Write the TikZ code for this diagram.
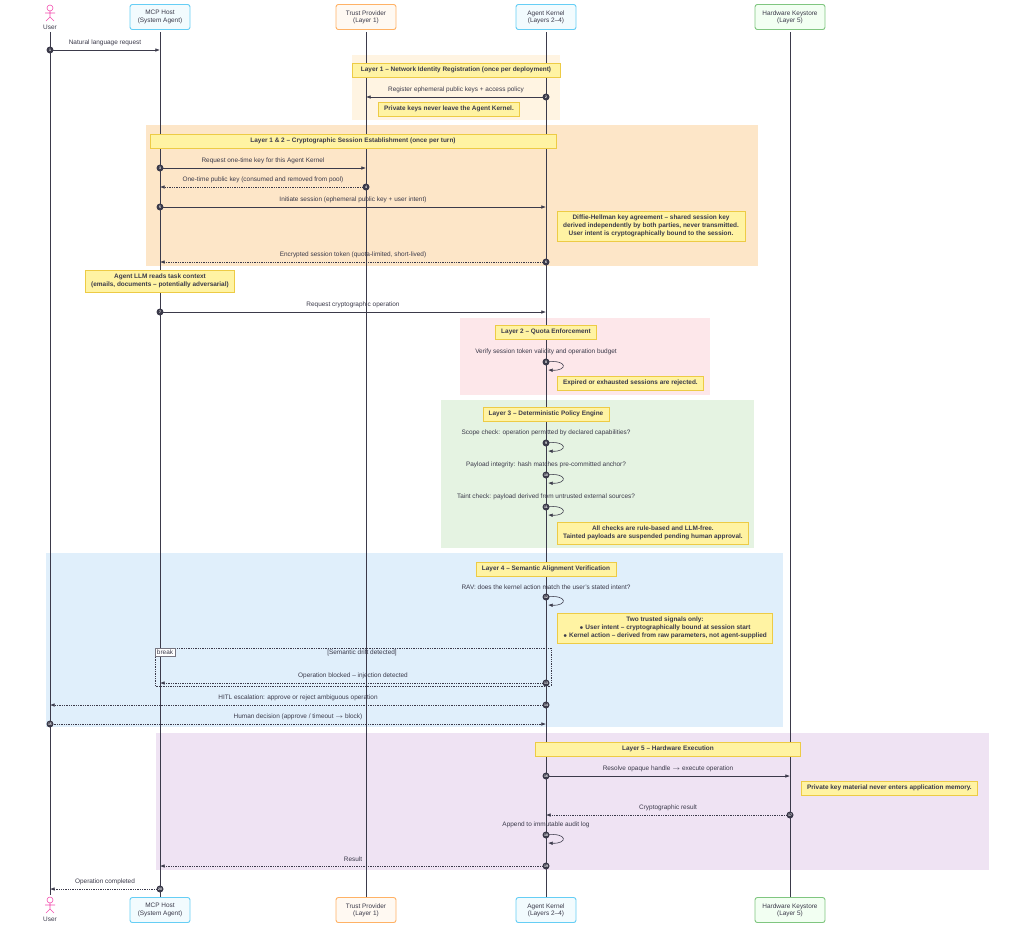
\documentclass[tikz,border=0pt]{standalone}
\usepackage{fontspec}
\setmainfont{Liberation Sans}
\usetikzlibrary{arrows.meta}
\definecolor{bgone}{HTML}{FFF4E2}
\definecolor{bgtwo}{HTML}{FDE6C8}
\definecolor{bgquota}{HTML}{FDE7EA}
\definecolor{bgpolicy}{HTML}{E5F3E2}
\definecolor{bgsem}{HTML}{E0EFFB}
\definecolor{bghw}{HTML}{EFE3F3}
\definecolor{notefill}{HTML}{FFF3A3}
\definecolor{notedraw}{HTML}{EDCB45}
\definecolor{linecol}{HTML}{3B3A4A}
\tikzset{
  actor/.style={rectangle, rounded corners=2pt, minimum width=60*0.03cm, minimum height=25*0.03cm, align=center, font=\fontsize{5.5}{6.2}\selectfont, line width=0.8pt, text=linecol},
  note/.style={rectangle, draw=notedraw, fill=notefill, align=center, font=\fontsize{5.5}{6.8}\selectfont\bfseries, text=linecol, inner xsep=5pt, inner ysep=3.5pt},
  msglabel/.style={font=\fontsize{5.5}{6}\selectfont, text=linecol, inner sep=1pt},
  seqnum/.style={circle, fill=linecol, text=white, inner sep=0pt, minimum size=7*0.03cm, font=\fontsize{3}{3}\selectfont\bfseries},
  msg/.style={draw=linecol, line width=0.5pt, -{Latex[length=4pt,width=3pt]}},
  reply/.style={msg, densely dotted},
  lifeline/.style={draw=linecol, line width=0.6pt}
}
% one message: number, x from, x to, y, style, label
\newcommand{\msgline}[6]{%
  \coordinate (m#1s) at (#2,#4); \coordinate (m#1e) at (#3,#4);
  \draw[#5] (m#1s) -- (m#1e);
  \node[msglabel] (l#1) at ({(#2+#3)/2},#4-7) {#6};
  \node[seqnum] (n#1) at (m#1s) {#1};}
% self message on the kernel
\newcommand{\selfmsg}[3]{%
  \coordinate (m#1s) at (546,#2); \coordinate (m#1e) at (548,#2+8);
  \draw[msg] (m#1s) .. controls (568,#2-3) and (568,#2+9) .. (m#1e);
  \node[msglabel] (l#1) at (546,#2-10) {#3};
  \node[seqnum] (n#1) at (m#1s) {#1};}
\newcommand{\stickman}[2]{%
  \draw[magenta!70, line width=0.5pt] (#1,#2) circle (3) (#1,#2+3) -- (#1,#2+9) (#1-5,#2+5) -- (#1+5,#2+5)
    (#1,#2+9) -- (#1-4,#2+13) (#1,#2+9) -- (#1+4,#2+13);}

\begin{document}
\begin{tikzpicture}[x=0.03cm, y=-0.03cm]
\useasboundingbox (0,0) rectangle (1009,941);

% layer backgrounds
\fill[bgone] (352,55) rectangle (560,120);
\fill[bgtwo] (146,125) rectangle (758,266);
\fill[bgquota] (460,318) rectangle (710,395);
\fill[bgpolicy] (441,400) rectangle (754,548);
\fill[bgsem] (46,553) rectangle (783,727);
\fill[bghw] (156,733) rectangle (989,870);

% lifelines
\draw[lifeline] (50,32) -- (50,895);
\draw[lifeline] (160,32) -- (160,897);
\draw[lifeline] (366,32) -- (366,897);
\draw[lifeline] (546,32) -- (546,897);
\draw[lifeline] (790,32) -- (790,897);

% participants, top and bottom
\stickman{50}{8}
\node[msglabel] (usertop) at (50,27) {User};
\stickman{50}{900}
\node[msglabel] (userbot) at (50,919) {User};
\foreach \y/\p in {17/top, 910/bot} {
  \node[actor, draw=cyan!60, fill=cyan!5] (mcp\p) at (160,\y) {MCP Host\\(System Agent)};
  \node[actor, draw=orange!60, fill=orange!5] (trust\p) at (366,\y) {Trust Provider\\(Layer 1)};
  \node[actor, draw=cyan!60, fill=cyan!5] (kernel\p) at (546,\y) {Agent Kernel\\(Layers 2--4)};
  \node[actor, minimum width=70*0.03cm, draw=green!55!black!50, fill=green!5] (hw\p) at (790,\y) {Hardware Keystore\\(Layer 5)};
}

% notes
\node[note, minimum width=208*0.03cm] (noteone) at (456,70) {Layer 1 -- Network Identity Registration (once per deployment)};
\node[note] (notekeys) at (449,109) {Private keys never leave the Agent Kernel.};
\node[note, minimum width=406*0.03cm] (notetwo) at (353,141) {Layer 1 \& 2 -- Cryptographic Session Establishment (once per turn)};
\node[note, anchor=west] (notedh) at (557,226) {Diffie-Hellman key agreement -- shared session key\\derived independently by both parties, never transmitted.\\User intent is cryptographically bound to the session.};
\node[note] (notellm) at (160,281) {Agent LLM reads task context\\(emails, documents -- potentially adversarial)};
\node[note] (notequota) at (546,332) {Layer 2 -- Quota Enforcement};
\node[note, anchor=west] (noteexp) at (557,383) {Expired or exhausted sessions are rejected.};
\node[note] (notepolicy) at (546,414) {Layer 3 -- Deterministic Policy Engine};
\node[note, anchor=west] (notechecks) at (557,533) {All checks are rule-based and LLM-free.\\Tainted payloads are suspended pending human approval.};
\node[note] (notesem) at (546,569) {Layer 4 -- Semantic Alignment Verification};
\node[note, anchor=west] (notesignals) at (557,628) {Two trusted signals only:\\$\bullet$ User intent -- cryptographically bound at session start\\$\bullet$ Kernel action -- derived from raw parameters, not agent-supplied};
\node[note, minimum width=265*0.03cm] (notehw) at (668,749) {Layer 5 -- Hardware Execution};
\node[note, anchor=west] (notemem) at (801,788) {Private key material never enters application memory.};

% break frame
\draw[linecol, densely dotted, line width=0.5pt] (155,648) rectangle (551,686);
\node[draw=linecol!70, fill=white, inner sep=1.5pt, anchor=north west, font=\fontsize{5.5}{6}\selectfont, text=linecol] (brk) at (155,648) {break};
\node[msglabel] (brkcond) at (362,653) {[Semantic drift detected]};

% messages
\msgline{1}{50}{160}{50}{msg}{Natural language request}
\msgline{2}{546}{366}{97}{msg}{Register ephemeral public keys + access policy}
\msgline{3}{160}{366}{168}{msg}{Request one-time key for this Agent Kernel}
\msgline{4}{366}{160}{187}{reply}{One-time public key (consumed and removed from pool)}
\msgline{5}{160}{546}{207}{msg}{Initiate session (ephemeral public key + user intent)}
\msgline{6}{546}{160}{262}{reply}{Encrypted session token (quota-limited, short-lived)}
\msgline{7}{160}{546}{312}{msg}{Request cryptographic operation}
\selfmsg{8}{362}{Verify session token validity and operation budget}
\selfmsg{9}{443}{Scope check: operation permitted by declared capabilities?}
\selfmsg{10}{475}{Payload integrity: hash matches pre-committed anchor?}
\selfmsg{11}{507}{Taint check: payload derived from untrusted external sources?}
\selfmsg{12}{597}{RAV: does the kernel action match the user's stated intent?}
\msgline{13}{546}{160}{683}{reply}{Operation blocked -- injection detected}
\msgline{14}{546}{50}{705}{reply}{HITL escalation: approve or reject ambiguous operation}
\msgline{15}{50}{546}{724}{reply}{Human decision (approve / timeout $\rightarrow$ block)}
\msgline{16}{546}{790}{776}{msg}{Resolve opaque handle $\rightarrow$ execute operation}
\msgline{17}{790}{546}{815}{reply}{Cryptographic result}
\selfmsg{18}{835}{Append to immutable audit log}
\msgline{19}{546}{160}{866}{reply}{Result}
\msgline{20}{160}{50}{889}{reply}{Operation completed}
\end{tikzpicture}
\end{document}
